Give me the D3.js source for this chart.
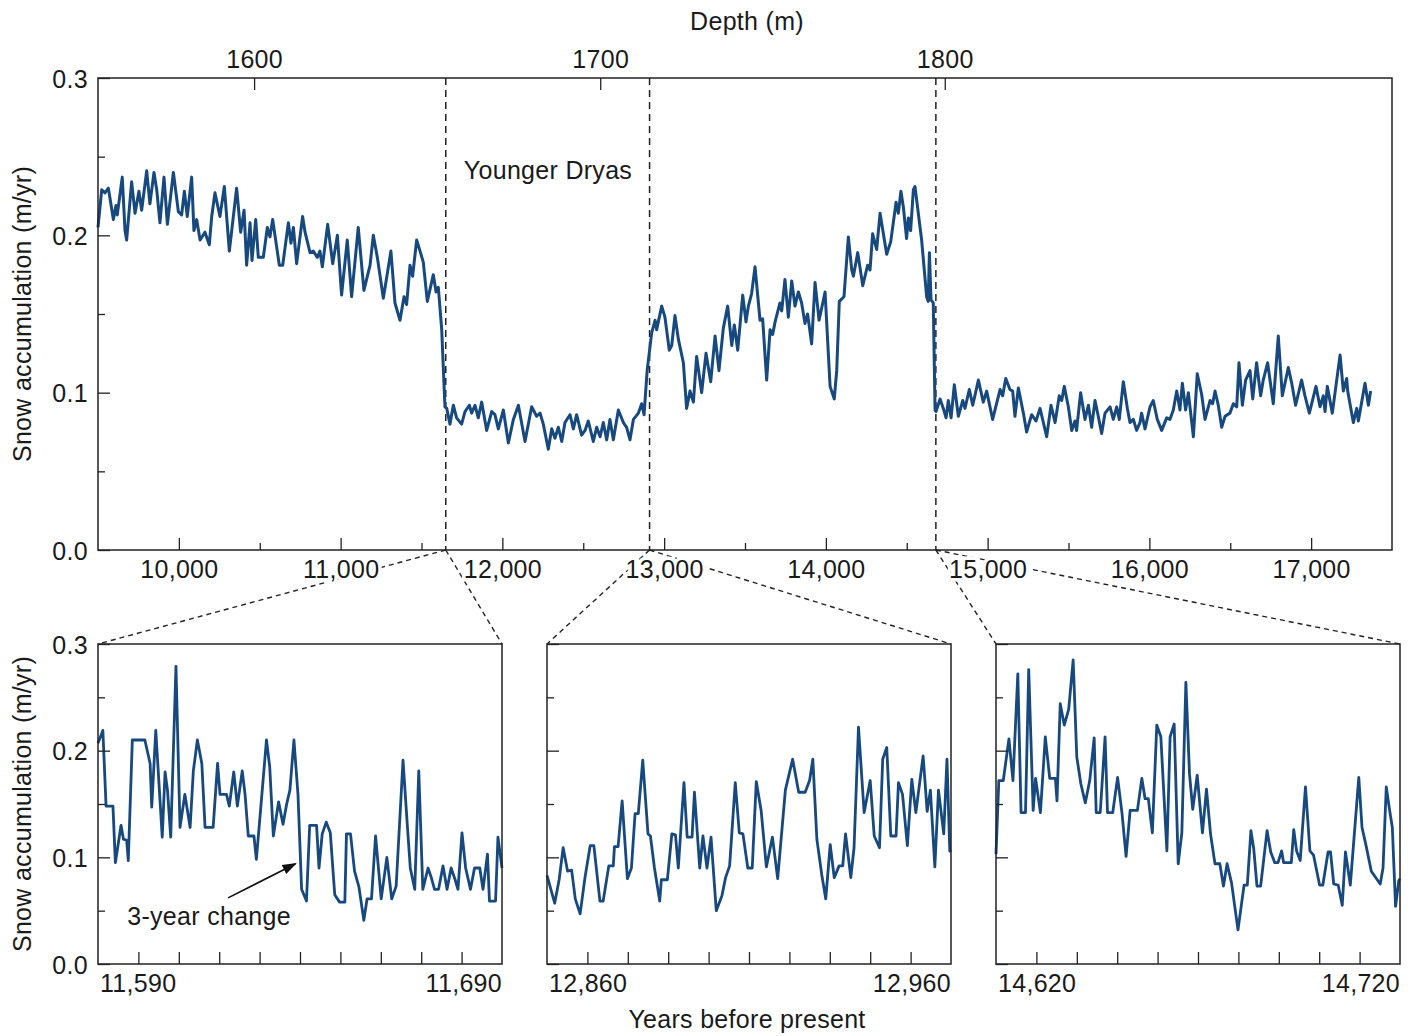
<!DOCTYPE html>
<html>
<head>
<meta charset="utf-8">
<script src="https://cdn.jsdelivr.net/npm/d3@7"></script>
<style>
  body { margin: 0; background: #fff; }
  svg text { font-family: "Liberation Sans", Arial, Helvetica, sans-serif; font-size: 25px; fill: #1a1a1a; letter-spacing: 0.3px; }
</style>
</head>
<body>
<div id="chart"></div>
<script>
// ---- data ----
// long record: [years before present, snow accumulation m/yr]
const recordSeries = [
  [9500,0.205],[9523,0.229],[9543,0.227],[9564,0.230],[9578,0.221],[9595,0.210],[9611,0.219],[9619,0.213],[9636,0.226],[9650,0.237],
  [9667,0.203],[9677,0.197],[9708,0.234],[9729,0.214],[9753,0.228],[9770,0.216],[9801,0.241],[9821,0.220],[9846,0.240],[9863,0.229],
  [9883,0.208],[9908,0.237],[9929,0.207],[9966,0.240],[9997,0.215],[10017,0.213],[10034,0.228],[10052,0.212],[10079,0.237],[10093,0.203],
  [10110,0.210],[10131,0.197],[10161,0.202],[10188,0.194],[10203,0.212],[10223,0.227],[10254,0.212],[10281,0.231],[10312,0.190],[10357,0.230],
  [10382,0.202],[10403,0.216],[10419,0.181],[10440,0.208],[10452,0.184],[10475,0.210],[10491,0.186],[10522,0.186],[10547,0.205],[10563,0.199],
  [10580,0.210],[10621,0.181],[10642,0.181],[10677,0.208],[10693,0.195],[10708,0.205],[10728,0.182],[10765,0.212],[10780,0.202],[10811,0.189],
  [10831,0.190],[10856,0.186],[10872,0.190],[10887,0.180],[10920,0.207],[10951,0.182],[10980,0.200],[11006,0.162],[11041,0.197],[11068,0.161],
  [11109,0.205],[11144,0.165],[11182,0.181],[11202,0.200],[11227,0.186],[11264,0.160],[11311,0.190],[11336,0.157],[11367,0.146],[11392,0.161],
  [11408,0.156],[11429,0.181],[11445,0.174],[11470,0.197],[11491,0.190],[11511,0.183],[11536,0.158],[11573,0.175],[11590,0.164],[11604,0.167],
  [11625,0.140],[11645,0.091],[11656,0.090],[11676,0.080],[11697,0.092],[11717,0.084],[11748,0.080],[11769,0.088],[11796,0.092],[11810,0.087],
  [11831,0.092],[11851,0.084],[11872,0.094],[11903,0.076],[11934,0.088],[11954,0.086],[11975,0.077],[12006,0.089],[12037,0.068],[12068,0.083],
  [12099,0.092],[12140,0.069],[12181,0.091],[12212,0.085],[12233,0.087],[12253,0.080],[12284,0.064],[12305,0.077],[12325,0.071],[12346,0.078],
  [12367,0.069],[12387,0.081],[12418,0.086],[12439,0.077],[12459,0.086],[12490,0.073],[12511,0.076],[12531,0.082],[12562,0.069],[12583,0.078],
  [12604,0.072],[12624,0.081],[12645,0.070],[12665,0.083],[12686,0.070],[12717,0.089],[12748,0.081],[12768,0.078],[12789,0.070],[12810,0.083],
  [12841,0.087],[12861,0.093],[12876,0.086],[12895,0.114],[12923,0.138],[12944,0.146],[12954,0.140],[12964,0.145],[12985,0.155],[13005,0.148],
  [13032,0.127],[13047,0.130],[13067,0.149],[13088,0.134],[13119,0.119],[13139,0.090],[13160,0.101],[13181,0.094],[13201,0.123],[13232,0.100],
  [13259,0.125],[13288,0.107],[13315,0.136],[13339,0.114],[13366,0.141],[13393,0.155],[13418,0.130],[13434,0.143],[13455,0.127],[13486,0.162],
  [13506,0.145],[13521,0.155],[13541,0.163],[13562,0.180],[13593,0.146],[13609,0.147],[13634,0.108],[13655,0.140],[13671,0.137],[13686,0.145],
  [13716,0.157],[13727,0.152],[13747,0.172],[13768,0.148],[13789,0.171],[13809,0.155],[13830,0.164],[13850,0.157],[13871,0.144],[13887,0.150],
  [13912,0.131],[13933,0.170],[13958,0.146],[13995,0.164],[14026,0.104],[14052,0.096],[14067,0.114],[14083,0.158],[14112,0.161],[14139,0.199],
  [14160,0.178],[14170,0.174],[14197,0.189],[14228,0.168],[14258,0.181],[14273,0.178],[14289,0.201],[14314,0.191],[14335,0.214],[14376,0.188],
  [14401,0.196],[14434,0.221],[14448,0.214],[14464,0.228],[14479,0.218],[14499,0.198],[14510,0.211],[14524,0.203],[14541,0.229],[14551,0.231],
  [14592,0.197],[14623,0.161],[14633,0.158],[14640,0.189],[14650,0.159],[14664,0.157],[14675,0.089],[14681,0.088],[14706,0.096],[14726,0.090],
  [14743,0.084],[14757,0.095],[14774,0.084],[14794,0.105],[14819,0.085],[14846,0.095],[14860,0.090],[14887,0.102],[14908,0.092],[14943,0.108],
  [14973,0.094],[14994,0.101],[15031,0.083],[15077,0.102],[15093,0.098],[15112,0.109],[15138,0.102],[15155,0.101],[15169,0.085],[15190,0.103],
  [15221,0.087],[15241,0.075],[15272,0.086],[15299,0.082],[15324,0.090],[15365,0.072],[15392,0.092],[15417,0.081],[15443,0.098],[15458,0.095],
  [15474,0.104],[15499,0.091],[15520,0.076],[15540,0.082],[15550,0.076],[15575,0.100],[15602,0.083],[15623,0.092],[15643,0.078],[15664,0.095],
  [15684,0.085],[15705,0.074],[15726,0.087],[15757,0.091],[15777,0.083],[15798,0.091],[15814,0.083],[15839,0.107],[15864,0.090],[15880,0.081],
  [15901,0.083],[15921,0.076],[15942,0.081],[15952,0.087],[15973,0.077],[16004,0.091],[16024,0.095],[16049,0.083],[16076,0.076],[16107,0.084],
  [16127,0.083],[16148,0.089],[16169,0.101],[16189,0.089],[16204,0.106],[16224,0.089],[16241,0.100],[16272,0.072],[16296,0.112],[16323,0.099],
  [16344,0.083],[16375,0.095],[16391,0.093],[16406,0.101],[16426,0.092],[16447,0.078],[16468,0.085],[16498,0.087],[16519,0.093],[16540,0.091],
  [16554,0.119],[16575,0.092],[16595,0.108],[16622,0.114],[16639,0.096],[16663,0.119],[16688,0.098],[16704,0.108],[16731,0.119],[16766,0.093],
  [16797,0.136],[16822,0.098],[16859,0.116],[16880,0.106],[16904,0.092],[16941,0.108],[16962,0.098],[16989,0.087],[17030,0.104],[17055,0.091],
  [17075,0.098],[17086,0.088],[17100,0.104],[17131,0.087],[17179,0.124],[17199,0.101],[17220,0.109],[17226,0.101],[17261,0.081],[17282,0.090],
  [17292,0.082],[17333,0.106],[17354,0.092],[17368,0.101]
];

// close-ups around the three transitions
const endYDSeries = [
  [11590,0.207],[11591.2,0.219],[11592,0.148],[11593.7,0.148],[11594.3,0.095],[11595.7,0.130],[11596.3,0.117],[11597.1,0.116],[11597.5,0.097],[11598.5,0.210],
  [11601.6,0.210],[11602.9,0.188],[11603.3,0.147],[11604.3,0.219],[11605.9,0.119],[11606.6,0.180],[11607.2,0.163],[11608,0.119],[11609.3,0.279],[11610.3,0.128],
  [11611.5,0.159],[11612.8,0.128],[11613.6,0.181],[11614.6,0.210],[11615.7,0.188],[11616.5,0.128],[11618.5,0.128],[11619.6,0.188],[11620.2,0.159],[11621.8,0.159],
  [11622.5,0.148],[11623.6,0.180],[11624.5,0.148],[11625.7,0.181],[11626.4,0.159],[11627.2,0.120],[11628.6,0.120],[11629.2,0.098],[11630.5,0.156],[11631.7,0.210],
  [11632.5,0.185],[11633.4,0.120],[11634.7,0.152],[11635.8,0.131],[11636.7,0.150],[11637.5,0.163],[11638.5,0.210],[11639.5,0.159],[11640.4,0.070],[11641.6,0.059],
  [11642.4,0.130],[11644.1,0.130],[11644.7,0.090],[11645.5,0.122],[11646.5,0.133],[11647.5,0.123],[11648.6,0.065],[11649.8,0.058],[11651.1,0.058],[11651.5,0.122],
  [11652.5,0.122],[11653.5,0.087],[11654.6,0.072],[11655.8,0.041],[11656.6,0.061],[11657.7,0.061],[11658.7,0.120],[11660.1,0.061],[11661.5,0.100],[11662.7,0.061],
  [11663.8,0.073],[11665.5,0.191],[11666.6,0.128],[11667.3,0.090],[11668.4,0.070],[11669.4,0.181],[11670.4,0.070],[11671.7,0.090],[11672.5,0.081],[11673.3,0.070],
  [11674.3,0.070],[11675.4,0.092],[11676.4,0.070],[11677.4,0.090],[11678.4,0.079],[11679.1,0.070],[11680.1,0.123],[11681,0.090],[11682.2,0.070],[11683.2,0.090],
  [11684.5,0.090],[11685.3,0.070],[11686.4,0.103],[11686.9,0.059],[11688.4,0.059],[11689,0.119],[11690,0.090]
];
const startYDSeries = [
  [12860,0.083],[12861.9,0.057],[12863,0.079],[12864,0.109],[12865.1,0.087],[12866.1,0.088],[12867,0.061],[12868.2,0.047],[12869.4,0.081],[12870.7,0.111],
  [12871.6,0.111],[12873.1,0.059],[12873.9,0.059],[12875.3,0.092],[12876.4,0.092],[12876.7,0.110],[12877.6,0.110],[12878.6,0.153],[12879.9,0.080],[12880.9,0.090],
  [12881.8,0.141],[12882.6,0.141],[12883.7,0.191],[12885,0.122],[12885.6,0.120],[12886.6,0.090],[12887.9,0.059],[12888.3,0.079],[12889.8,0.079],[12890.9,0.122],
  [12891.8,0.121],[12892.5,0.090],[12893.9,0.170],[12894.7,0.119],[12895.9,0.119],[12896.5,0.161],[12897.8,0.090],[12898.6,0.120],[12899.6,0.090],[12900.6,0.119],
  [12901.9,0.050],[12903.3,0.064],[12904.2,0.081],[12905.2,0.092],[12906.6,0.170],[12907.6,0.123],[12908.5,0.122],[12909.7,0.090],[12910.8,0.090],[12911.8,0.171],
  [12913,0.144],[12914.3,0.091],[12915.8,0.119],[12917.1,0.080],[12919,0.163],[12920.8,0.192],[12922.3,0.161],[12923.9,0.161],[12925,0.172],[12925.8,0.192],
  [12926.8,0.117],[12928,0.084],[12929,0.061],[12930.1,0.112],[12931.1,0.081],[12932.3,0.092],[12933.2,0.092],[12933.9,0.122],[12935.2,0.081],[12936,0.109],
  [12937.1,0.222],[12938.5,0.142],[12940,0.172],[12941,0.120],[12942.3,0.109],[12943.1,0.192],[12944.1,0.203],[12945.1,0.120],[12946.4,0.120],[12947,0.170],
  [12948,0.159],[12949.2,0.111],[12950.3,0.173],[12951.3,0.142],[12953.1,0.195],[12954.1,0.143],[12954.9,0.163],[12956,0.091],[12956.9,0.163],[12958.2,0.122],
  [12959,0.192],[12959.7,0.106],[12960,0.105]
];
const boellingSeries = [
  [14620,0.103],[14620.7,0.172],[14621.8,0.172],[14623.2,0.211],[14624.2,0.172],[14625.4,0.272],[14626.2,0.142],[14627.3,0.142],[14628.1,0.276],[14629.2,0.144],
  [14629.8,0.174],[14631,0.142],[14632.2,0.213],[14633.3,0.174],[14634.7,0.174],[14635.1,0.153],[14635.9,0.244],[14636.9,0.224],[14638,0.239],[14639.1,0.285],
  [14640,0.194],[14641,0.169],[14642.1,0.151],[14643.2,0.172],[14644.3,0.212],[14644.8,0.142],[14645.8,0.142],[14647,0.213],[14647.6,0.142],[14648.9,0.142],
  [14650.1,0.175],[14651.2,0.141],[14652.2,0.101],[14653.2,0.144],[14655,0.144],[14656.1,0.174],[14656.9,0.155],[14657.7,0.155],[14658.7,0.123],[14659.8,0.224],
  [14660.8,0.213],[14662.3,0.106],[14663.1,0.213],[14664.1,0.225],[14665.1,0.094],[14666,0.123],[14667,0.264],[14667.9,0.178],[14668.7,0.145],[14669.8,0.177],
  [14671.1,0.123],[14672.1,0.164],[14673.1,0.122],[14674.2,0.094],[14675.4,0.094],[14676.3,0.073],[14677.2,0.094],[14678.3,0.076],[14679.9,0.032],[14681.4,0.074],
  [14682.2,0.074],[14683.1,0.125],[14683.8,0.108],[14684.6,0.073],[14685.5,0.073],[14687.1,0.125],[14688,0.105],[14689,0.095],[14689.8,0.095],[14690.7,0.106],
  [14691.2,0.095],[14693.1,0.095],[14693.7,0.126],[14694.4,0.106],[14695.3,0.097],[14696.6,0.166],[14697.7,0.106],[14698.6,0.102],[14700.1,0.074],[14700.9,0.074],
  [14702.2,0.105],[14702.8,0.105],[14703.6,0.075],[14704.7,0.074],[14705.7,0.055],[14706.5,0.105],[14707.7,0.074],[14709.8,0.175],[14710.6,0.128],[14711.6,0.111],
  [14712.9,0.087],[14715.1,0.075],[14715.8,0.090],[14716.6,0.166],[14717.4,0.145],[14718.1,0.128],[14718.9,0.054],[14719.7,0.078],[14720,0.080]
];

const panelSeries = [endYDSeries, startYDSeries, boellingSeries];
const panelRanges = [[11590, 11690], [12860, 12960], [14620, 14720]];
const transitionYears = [11650, 12910, 14680];
const yearTicks = [10000, 11000, 12000, 13000, 14000, 15000, 16000, 17000];
const depthTicks = [1600, 1700, 1800];
const depthTickYears = [10465, 12605, 14735];
const accTicks = [0, 0.1, 0.2, 0.3];
const accMinorTicks = [0.05, 0.15, 0.25];

// ---- layout ----
const W = 1415, H = 1036;
const lineColor = "#17497f";
const ink = "#222";
const main = { left: 98, right: 1392, top: 78, bottom: 550 };
const panelTop = 644, panelBottom = 964, panelWidth = 404;
const panelLefts = [98, 547, 996];

const svg = d3.select("#chart").append("svg")
  .attr("width", W)
  .attr("height", H);

const x = d3.scaleLinear().domain([9500, 17500]).range([main.left, main.right]);
const y = d3.scaleLinear().domain([0, 0.3]).range([main.bottom, main.top]);
const fmtYear = d3.format(",d");
const fmtAcc = d3.format(".1f");

// connector lines between the long record and the close-ups
const panelX = panelRanges.map((r, i) => d3.scaleLinear().domain(r).range([panelLefts[i], panelLefts[i] + panelWidth]));
const py = d3.scaleLinear().domain([0, 0.3]).range([panelBottom, panelTop]);

transitionYears.forEach((t, i) => {
  [panelLefts[i], panelLefts[i] + panelWidth].forEach(px => {
    svg.append("line")
      .attr("x1", x(t)).attr("y1", main.bottom)
      .attr("x2", px).attr("y2", panelTop)
      .attr("stroke", ink).attr("stroke-width", 1.4)
      .attr("stroke-dasharray", "5,4");
  });
});

// ---- main chart ----
const g = svg.append("g");

// dashed transition markers
g.selectAll(".trans")
  .data(transitionYears)
  .join("line")
  .attr("x1", d => x(d)).attr("x2", d => x(d))
  .attr("y1", main.top).attr("y2", main.bottom)
  .attr("stroke", ink).attr("stroke-width", 1.5)
  .attr("stroke-dasharray", "7,5");

const line = d3.line().x(d => x(d[0])).y(d => y(d[1]));
g.append("path")
  .datum(recordSeries)
  .attr("fill", "none")
  .attr("stroke", lineColor)
  .attr("stroke-width", 3)
  .attr("stroke-linejoin", "round")
  .attr("d", line);

g.append("rect")
  .attr("x", main.left).attr("y", main.top)
  .attr("width", main.right - main.left).attr("height", main.bottom - main.top)
  .attr("fill", "none").attr("stroke", ink).attr("stroke-width", 1.5);

// left axis
const yAxis = g.append("g").attr("transform", `translate(${main.left},0)`)
  .call(d3.axisLeft(y).tickValues(accTicks).tickSize(-12).tickPadding(10).tickFormat(fmtAcc));
g.append("g").attr("transform", `translate(${main.left},0)`)
  .call(d3.axisLeft(y).tickValues(accMinorTicks).tickSize(-7).tickFormat(""));

// bottom axis (years)
const xAxis = g.append("g").attr("transform", `translate(0,${main.bottom})`)
  .call(d3.axisBottom(x).tickValues(yearTicks).tickSize(-12).tickPadding(10).tickFormat(fmtYear));
g.append("g").attr("transform", `translate(0,${main.bottom})`)
  .call(d3.axisBottom(x).tickValues(yearTicks.map(v => v + 500).filter(v => v < 17500)).tickSize(-7).tickFormat(""));

// top axis (depth)
const depthScale = d3.scaleLinear().domain(depthTicks).range(depthTickYears.map(x));
g.append("g").attr("transform", `translate(0,${main.top})`)
  .call(d3.axisTop(depthScale).tickValues(depthTicks).tickSize(-12).tickPadding(10).tickFormat(d3.format("d")));

g.selectAll(".domain").remove();
g.selectAll(".tick line").attr("stroke", ink).attr("stroke-width", 1.3);
g.selectAll(".tick text").attr("font-size", null).attr("font-family", null).attr("fill", "#1a1a1a");
yAxis.selectAll(".tick text").attr("dy", "0.36em");
// white halo so the connector lines pass behind the year labels
xAxis.selectAll(".tick text")
  .attr("stroke", "#fff").attr("stroke-width", 7).attr("paint-order", "stroke");

g.append("text")
  .attr("x", 548).attr("y", y(0.236))
  .attr("text-anchor", "middle")
  .text("Younger Dryas");

svg.append("text")
  .attr("x", 747).attr("y", 30)
  .attr("text-anchor", "middle")
  .text("Depth (m)");

svg.append("text")
  .attr("transform", `translate(31,${(main.top + main.bottom) / 2}) rotate(-90)`)
  .attr("text-anchor", "middle")
  .text("Snow accumulation (m/yr)");

// ---- close-up panels ----
panelSeries.forEach((series, i) => {
  const px = panelX[i];
  const pg = svg.append("g");
  const [x0, x1] = px.range();

  pg.append("path")
    .datum(series)
    .attr("fill", "none")
    .attr("stroke", lineColor)
    .attr("stroke-width", 2.8)
    .attr("stroke-linejoin", "round")
    .attr("d", d3.line().x(d => px(d[0])).y(d => py(d[1])));

  pg.append("rect")
    .attr("x", x0).attr("y", panelTop)
    .attr("width", x1 - x0).attr("height", panelBottom - panelTop)
    .attr("fill", "none").attr("stroke", ink).attr("stroke-width", 1.5);

  const innerTicks = px.ticks(10).filter(v => v > panelRanges[i][0] && v < panelRanges[i][1]);
  pg.append("g").attr("transform", `translate(0,${panelBottom})`)
    .call(d3.axisBottom(px).tickValues(innerTicks).tickSize(-12).tickFormat(""));

  pg.append("g").attr("transform", `translate(${x0},0)`)
    .call(d3.axisLeft(py).tickValues(accTicks).tickSize(-12).tickPadding(10)
      .tickFormat(i === 0 ? fmtAcc : ""));
  pg.append("g").attr("transform", `translate(${x0},0)`)
    .call(d3.axisLeft(py).tickValues(accMinorTicks).tickSize(-7).tickFormat(""));

  pg.selectAll(".domain").remove();
  pg.selectAll(".tick line").attr("stroke", ink).attr("stroke-width", 1.3);
  pg.selectAll(".tick text").attr("font-size", null).attr("font-family", null).attr("fill", "#1a1a1a").attr("dy", "0.36em");

  // end labels of each close-up
  pg.append("text").attr("x", x0 + 2).attr("y", panelBottom + 28)
    .attr("text-anchor", "start").text(fmtYear(panelRanges[i][0]));
  pg.append("text").attr("x", x1).attr("y", panelBottom + 28)
    .attr("text-anchor", "end").text(fmtYear(panelRanges[i][1]));
});

// 3-year change annotation
const p0 = panelX[0];
svg.append("defs").append("marker")
  .attr("id", "arrow")
  .attr("viewBox", "0 0 10 10")
  .attr("refX", 9).attr("refY", 5)
  .attr("markerWidth", 9).attr("markerHeight", 9)
  .attr("orient", "auto")
  .append("path").attr("d", "M0,1.5 L10,5 L0,8.5 Z").attr("fill", "#111");

svg.append("line")
  .attr("x1", p0(11622.2)).attr("y1", py(0.062))
  .attr("x2", p0(11638.9)).attr("y2", py(0.094))
  .attr("stroke", "#111").attr("stroke-width", 1.6)
  .attr("marker-end", "url(#arrow)");

svg.append("text")
  .attr("x", p0(11617.5)).attr("y", py(0.037))
  .attr("text-anchor", "middle")
  .text("3-year change");

svg.append("text")
  .attr("transform", `translate(31,${(panelTop + panelBottom) / 2}) rotate(-90)`)
  .attr("text-anchor", "middle")
  .text("Snow accumulation (m/yr)");

svg.append("text")
  .attr("x", 747).attr("y", 1028)
  .attr("text-anchor", "middle")
  .text("Years before present");
</script>
</body>
</html>
